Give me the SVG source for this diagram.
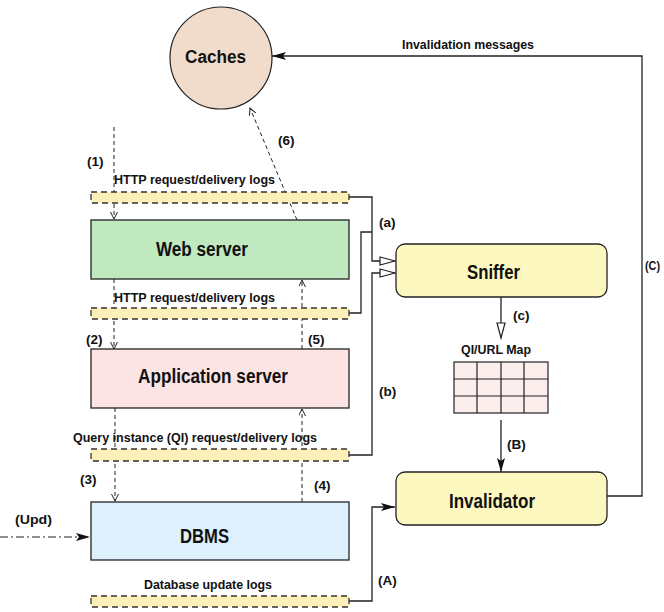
<svg xmlns="http://www.w3.org/2000/svg" width="664" height="612" viewBox="0 0 664 612">
<defs>
<style>
text{font-family:"Liberation Sans Narrow","Liberation Sans",Arial,sans-serif;font-weight:bold;fill:#111}
.big{font-size:20px}
.sm{font-size:12.5px}
.lb{font-size:13.5px}
.box{stroke:#222;stroke-width:1.3}
.log{fill:#fcefb8;stroke:#333;stroke-width:1.3;stroke-dasharray:6,4}
.con{fill:none;stroke:#222;stroke-width:1.3}
.dash{fill:none;stroke:#222;stroke-width:1;stroke-dasharray:4,3}
</style>
<marker id="fa" markerUnits="userSpaceOnUse" markerWidth="16" markerHeight="10" refX="14" refY="4" orient="auto">
<path d="M0,0 L14,4 L0,8 L3,4 z" fill="#111"/>
</marker>
<marker id="oa" markerUnits="userSpaceOnUse" markerWidth="18" markerHeight="12" refX="16" refY="5" orient="auto">
<path d="M1,1 L16,5 L1,9 z" fill="#fff" stroke="#222" stroke-width="1.2"/>
</marker>
<marker id="ch" markerUnits="userSpaceOnUse" markerWidth="10" markerHeight="10" refX="7" refY="3.5" orient="auto">
<path d="M0,0 L7,3.5 L0,7" fill="none" stroke="#222" stroke-width="1"/>
</marker>
</defs>

<g id="connectors">
<polyline class="con" points="607,496 642,496 642,56 272,56" marker-end="url(#fa)"/>
<polyline class="con" points="349,197 372,197 372,261 395,261" marker-end="url(#oa)"/>
<polyline class="con" points="349,313 361,313 361,232 372,232"/>
<polyline class="con" points="349,455 372,455 372,273 395,273" marker-end="url(#oa)"/>
<line class="con" x1="501" y1="297" x2="501" y2="338" marker-end="url(#oa)"/>
<line class="con" x1="501" y1="420" x2="501" y2="472" marker-end="url(#fa)"/>
<polyline class="con" points="349,601 372,601 372,507 395,507" marker-end="url(#fa)"/>
<line class="dash" x1="114" y1="127" x2="114" y2="219" marker-end="url(#ch)"/>
<line class="dash" x1="114" y1="279" x2="114" y2="349" marker-end="url(#ch)"/>
<line class="dash" x1="115" y1="408" x2="115" y2="501" marker-end="url(#ch)"/>
<line class="dash" x1="302" y1="502" x2="302" y2="409" marker-end="url(#ch)"/>
<line class="dash" x1="302" y1="349" x2="302" y2="280" marker-end="url(#ch)"/>
<line class="dash" x1="297" y1="220" x2="250" y2="108" marker-end="url(#ch)"/>
<line x1="0" y1="537" x2="90" y2="537" stroke="#222" stroke-width="1.2" stroke-dasharray="8,3,2,3" marker-end="url(#fa)"/>
</g>

<g id="logs">
<rect class="log" x="91" y="192" width="258" height="11"/>
<rect class="log" x="91" y="308" width="258" height="11"/>
<rect class="log" x="91" y="449" width="258" height="12"/>
<rect class="log" x="91" y="596" width="258" height="11"/>
<text class="sm" x="114" y="184" textLength="161" lengthAdjust="spacingAndGlyphs">HTTP request/delivery logs</text>
<text class="sm" x="114" y="302" textLength="161" lengthAdjust="spacingAndGlyphs">HTTP request/delivery logs</text>
<text class="sm" x="73" y="442" textLength="244" lengthAdjust="spacingAndGlyphs">Query instance (QI) request/delivery logs</text>
<text class="sm" x="144" y="589" textLength="128" lengthAdjust="spacingAndGlyphs">Database update logs</text>
</g>

<g id="caches">
<circle cx="221" cy="58" r="51" fill="#f1dccb" stroke="#222" stroke-width="1.2"/>
<text x="185" y="63" font-size="18" textLength="61" lengthAdjust="spacingAndGlyphs">Caches</text>
</g>

<g id="webserver">
<rect class="box" x="91" y="220" width="258" height="59" fill="#c0e9c0"/>
<text class="big" x="156" y="256" textLength="92" lengthAdjust="spacingAndGlyphs">Web server</text>
</g>

<g id="appserver">
<rect class="box" x="91" y="349" width="258" height="59" fill="#fde4e4"/>
<text class="big" x="138" y="383" textLength="150" lengthAdjust="spacingAndGlyphs">Application server</text>
</g>

<g id="dbms">
<rect class="box" x="91" y="502" width="258" height="58" fill="#def0fb"/>
<text class="big" x="180" y="543" textLength="49" lengthAdjust="spacingAndGlyphs">DBMS</text>
</g>

<g id="sniffer">
<rect class="box" x="396" y="244" width="211" height="53" rx="9" fill="#fdf8c0"/>
<text class="big" x="467" y="279" textLength="53" lengthAdjust="spacingAndGlyphs">Sniffer</text>
</g>

<g id="qimap">
<text class="sm" x="461" y="354" textLength="70" lengthAdjust="spacingAndGlyphs">QI/URL Map</text>
<rect x="454" y="362" width="94" height="51" fill="#fdeeee" stroke="#222" stroke-width="1.2"/>
<path d="M477,362 V413 M501,362 V413 M524,362 V413 M454,379 H548 M454,396 H548" stroke="#222" stroke-width="1.2" fill="none"/>
</g>

<g id="invalidator">
<rect class="box" x="396" y="472" width="211" height="53" rx="9" fill="#fdf8c0"/>
<text class="big" x="449" y="508" textLength="86" lengthAdjust="spacingAndGlyphs">Invalidator</text>
</g>

<g id="labels">
<text class="sm" x="402" y="49" textLength="132" lengthAdjust="spacingAndGlyphs">Invalidation messages</text>
<text class="lb" x="87" y="166">(1)</text>
<text class="lb" x="278" y="145">(6)</text>
<text class="lb" x="86" y="344">(2)</text>
<text class="lb" x="308" y="344">(5)</text>
<text class="lb" x="80" y="484">(3)</text>
<text class="lb" x="314" y="490">(4)</text>
<text class="lb" x="15" y="524" textLength="37" lengthAdjust="spacingAndGlyphs">(Upd)</text>
<text class="lb" x="379" y="227">(a)</text>
<text class="lb" x="379" y="396">(b)</text>
<text class="lb" x="513" y="320">(c)</text>
<text class="lb" x="507" y="449">(B)</text>
<text class="lb" x="378" y="585">(A)</text>
<text class="lb" x="645" y="270" textLength="15" lengthAdjust="spacingAndGlyphs">(C)</text>
</g>
</svg>
